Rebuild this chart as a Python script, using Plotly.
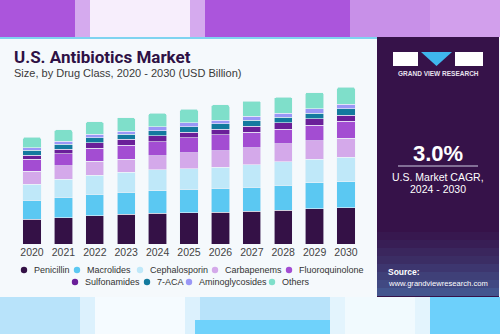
import plotly.graph_objects as go

years = ["2020", "2021", "2022", "2023", "2024", "2025", "2026", "2027", "2028", "2029", "2030"]
series_names = ["Penicillin", "Macrolides", "Cephalosporin", "Carbapenems", "Fluoroquinolone",
                "Sulfonamides", "7-ACA", "Aminoglycosides", "Others"]
penicillin      = [2.63, 2.80, 3.01, 3.16, 3.26, 3.33, 3.37, 3.47, 3.61, 3.72, 3.85]
macrolides      = [2.00, 2.15, 2.24, 2.32, 2.39, 2.46, 2.53, 2.56, 2.63, 2.74, 2.74]
cephalosporin   = [1.70, 1.90, 2.03, 2.10, 2.18, 2.17, 2.24, 2.35, 2.45, 2.50, 2.57]
carbapenems     = [1.36, 1.40, 1.47, 1.40, 1.51, 1.68, 1.72, 1.79, 1.90, 1.93, 2.00]
fluoroquinolone = [1.26, 1.26, 1.37, 1.47, 1.47, 1.58, 1.68, 1.65, 1.55, 1.65, 1.82]
sulfonamides    = [0.45, 0.50, 0.60, 0.60, 0.63, 0.57, 0.60, 0.63, 0.66, 0.66, 0.60]
aca7            = [0.50, 0.52, 0.48, 0.53, 0.53, 0.59, 0.53, 0.63, 0.57, 0.60, 0.70]
aminoglycosides = [0.25, 0.32, 0.39, 0.35, 0.42, 0.42, 0.42, 0.42, 0.42, 0.45, 0.49]
others          = [1.12, 1.19, 1.30, 1.40, 1.40, 1.41, 1.58, 1.58, 1.68, 1.72, 1.76]
annot_year = "2022"
annot_label = "$12.9B"

series_values = [penicillin, macrolides, cephalosporin, carbapenems, fluoroquinolone,
                 sulfonamides, aca7, aminoglycosides, others]
colors = ["#341146", "#5bc8f2", "#bfe8f9", "#d4a9ea", "#a34dd2",
          "#6a1f99", "#137a9e", "#9a97f6", "#7fdfca"]

W, H = 500, 334
def px(x): return x / W
def py(y): return 1 - y / H

fig = go.Figure()
for name, vals, col in zip(series_names, series_values, colors):
    fig.add_trace(go.Bar(x=years, y=vals, name=name,
                         marker=dict(color=col, line=dict(color="#eef3f8", width=0.6)),
                         showlegend=False, hoverinfo="skip"))

totals = [sum(v[i] for v in series_values) for i in range(len(years))]
ai = years.index(annot_year)

shapes = []
def rect(x0, y0, x1, y1, color, opacity=1.0):
    shapes.append(dict(type="rect", xref="paper", yref="paper", x0=px(x0), x1=px(x1), y0=py(y1), y1=py(y0),
                       fillcolor=color, opacity=opacity, line=dict(width=0), layer="below"))

# top background (blurred photo)
rect(0, 0, 500, 37, "#ab55dc")
rect(75, 0, 205, 37, "#ffffff", 0.5)
rect(90, 0, 190, 37, "#ffffff", 0.8)
rect(350, 0, 430, 37, "#ffffff", 0.35)
rect(430, 0, 500, 37, "#e2bff2", 0.7)
# bottom background
rect(0, 296, 500, 334, "#b8e3fa")
rect(80, 296, 200, 334, "#ffffff", 0.5)
rect(95, 296, 185, 334, "#ffffff", 0.7)
rect(195, 320, 330, 334, "#6fd2fb")
rect(330, 296, 430, 334, "#ffffff", 0.6)
rect(345, 296, 415, 334, "#ffffff", 0.5)
rect(430, 296, 500, 334, "#6dd0fb")
# card
rect(0, 37, 500, 297, "#f5f9fc")
rect(0, 37, 378, 39, "#7fd3f0")
# sidebar
rect(377, 37, 499, 297, "#361249")
for i, op in enumerate([0.05, 0.1, 0.16, 0.22, 0.3, 0.38, 0.46, 0.55]):
    rect(377, 232 + i * 8, 499, 240 + i * 8, "#4f8cc6", op)
# logo
rect(393, 52, 418, 66, "#ffffff")
rect(455, 52, 483, 66, "#ffffff")
shapes.append(dict(type="path", xref="paper", yref="paper",
                   path=f"M {px(421)} {py(52)} L {px(452)} {py(52)} L {px(436.5)} {py(66)} Z",
                   fillcolor="#3fb6ec", line=dict(width=0)))
shapes.append(dict(type="line", xref="paper", yref="paper", x0=px(398), x1=px(478), y0=py(166), y1=py(166),
                   line=dict(color="#9d8fb0", width=1.5)))

annotations = []
def text(x, y, s, size, color, bold=False, anchor="left", family="Liberation Sans"):
    annotations.append(dict(x=px(x), y=py(y), xref="paper", yref="paper", xanchor=anchor, yanchor="middle",
                            text=f"<b>{s}</b>" if bold else s, showarrow=False,
                            font=dict(size=size, color=color, family=family)))

text(12, 57, "U.S. Antibiotics Market", 17, "#2e1145", bold=True, family="Roboto")
text(12, 73, "Size, by Drug Class, 2020 - 2030 (USD Billion)", 11, "#3a3a3a")
text(438, 74, "GRAND VIEW RESEARCH", 6.5, "#e6e0ee", bold=True, anchor="center")
text(438, 153, "3.0%", 22, "#ffffff", bold=True, anchor="center")
text(438, 177, "U.S. Market CAGR,", 10.5, "#ffffff", anchor="center")
text(438, 189, "2024 - 2030", 10.5, "#ffffff", anchor="center")
text(386, 272, "Source:", 8.5, "#ffffff", bold=True)
text(386, 283, "www.grandviewresearch.com", 7.6, "#ffffff")

annotations.append(dict(x=annot_year, y=totals[ai], xref="x", yref="y", text=annot_label, showarrow=False,
                        yanchor="bottom", yshift=5, font=dict(size=10.5, color="#333333", family="Liberation Sans")))

# manual legend
legend_pos = [(24, 270), (77, 270), (140, 270), (215, 270), (289, 270),
              (75, 282), (147, 282), (189, 282), (272, 282)]
for name, col, (cx, cy) in zip(series_names, colors, legend_pos):
    shapes.append(dict(type="circle", xref="paper", yref="paper", x0=px(cx - 3.2), x1=px(cx + 3.2),
                       y0=py(cy + 3.2), y1=py(cy - 3.2), fillcolor=col, line=dict(width=0)))
    text(cx + 7.5, cy, name, 9, "#333333")

fig.update_layout(
    width=W, height=H, margin=dict(l=0, r=0, t=0, b=0),
    paper_bgcolor="#f5f9fc", plot_bgcolor="rgba(0,0,0,0)",
    barmode="stack", bargap=0.417, barcornerradius=2,
    xaxis=dict(type="category", range=[-0.5, 10.5], domain=[px(16.3), px(361.7)],
               showgrid=False, showline=False, zeroline=False, ticks="",
               tickfont=dict(size=10.5, color="#444444", family="Liberation Sans"), fixedrange=True),
    yaxis=dict(domain=[py(244.3), py(244.3 - 18 * 9.496)], range=[0, 18], visible=False, fixedrange=True),
    shapes=shapes, annotations=annotations, showlegend=False,
)
fig.write_html("out.html")
